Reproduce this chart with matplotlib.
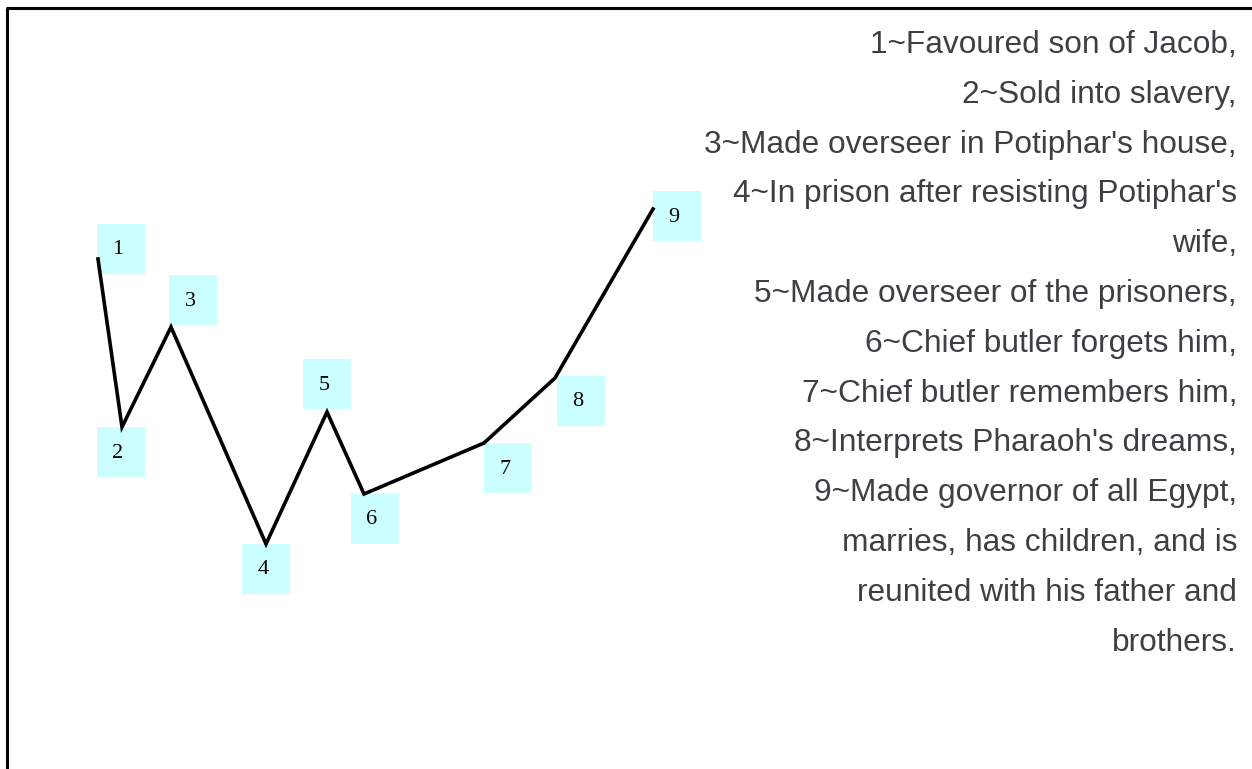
import matplotlib.pyplot as plt
from matplotlib.patches import Rectangle

# turning points of the story (x position, "fortune" height in pixels from top)
stage_x = [98, 122, 171, 266, 327, 364, 484, 555, 653]
stage_y = [259, 427, 327, 544, 412, 494, 443, 378, 209]
stage_labels = ["1", "2", "3", "4", "5", "6", "7", "8", "9"]

# where each numbered tag sits (box centre)
tag_x = [121, 121, 193, 266, 327, 375, 508, 581, 677]
tag_y = [249, 452, 300, 569, 384, 519, 468, 401, 216]

notes = [
    "1~Favoured son of Jacob,",
    "2~Sold into slavery,",
    "3~Made overseer in Potiphar's house,",
    "4~In prison after resisting Potiphar's",
    "wife,",
    "5~Made overseer of the prisoners,",
    "6~Chief butler forgets him,",
    "7~Chief butler remembers him,",
    "8~Interprets Pharaoh's dreams,",
    "9~Made governor of all Egypt,",
    "marries, has children, and is",
    "reunited with his father and",
    "brothers.",
]

W, H = 1252, 769
fig = plt.figure(figsize=(W / 100, H / 100), dpi=100)
ax = fig.add_axes([0, 0, 1, 1])
ax.set_xlim(0, W)
ax.set_ylim(H, 0)
ax.axis("off")

# frame: top and left edges only
ax.plot([7, 7], [H + 5, 8], color="black", lw=2.2, solid_capstyle="butt")
ax.plot([6, W + 5], [8, 8], color="black", lw=2.2, solid_capstyle="butt")

ax.plot(stage_x, stage_y, color="black", lw=2.6, solid_joinstyle="miter")

bw, bh = 48, 50
for tx, ty, lab in zip(tag_x, tag_y, stage_labels):
    ax.add_patch(Rectangle((tx - bw / 2, ty - bh / 2), bw, bh,
                           facecolor="#ccffff", edgecolor="none", zorder=0))
    ax.text(tx - 3, ty + 1, lab, ha="center", va="center",
            fontsize=16, family="Liberation Serif", color="black")

for i, line in enumerate(notes):
    ax.text(1237, 45 + i * 49.8, line, ha="right", va="center",
            fontsize=22.8, family="Liberation Sans", color="#3c4043")

fig.savefig("out.png", dpi=100)
